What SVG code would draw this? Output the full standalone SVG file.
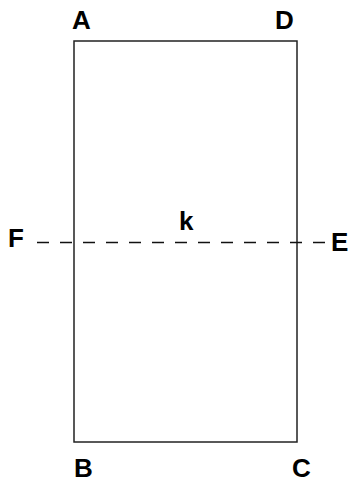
<svg xmlns="http://www.w3.org/2000/svg" width="349" height="484" viewBox="0 0 349 484">
<style>
.lbl{font-family:"Liberation Sans",Arial,sans-serif;font-weight:bold;font-size:26px;fill:#000}
.edge{fill:none;stroke:#222;stroke-width:1.5}
.dash{fill:none;stroke:#111;stroke-width:1.5;stroke-dasharray:12 11}
</style>
<rect width="349" height="484" fill="#fff"/>
<g id="rectangle">
<rect class="edge" x="74" y="41" width="223" height="401"/>
</g>
<g id="connectors">
<line class="dash" x1="37" y1="242.5" x2="331" y2="242.5"/>
</g>
<g id="node-A"><text class="lbl" x="72" y="29">A</text></g>
<g id="node-D"><text class="lbl" x="275" y="29">D</text></g>
<g id="node-B"><text class="lbl" x="74" y="477">B</text></g>
<g id="node-C"><text class="lbl" x="292" y="477">C</text></g>
<g id="node-F"><text class="lbl" x="8" y="247">F</text></g>
<g id="node-E"><text class="lbl" x="331" y="251">E</text></g>
<g id="node-k"><text class="lbl" x="179" y="230">k</text></g>
</svg>
